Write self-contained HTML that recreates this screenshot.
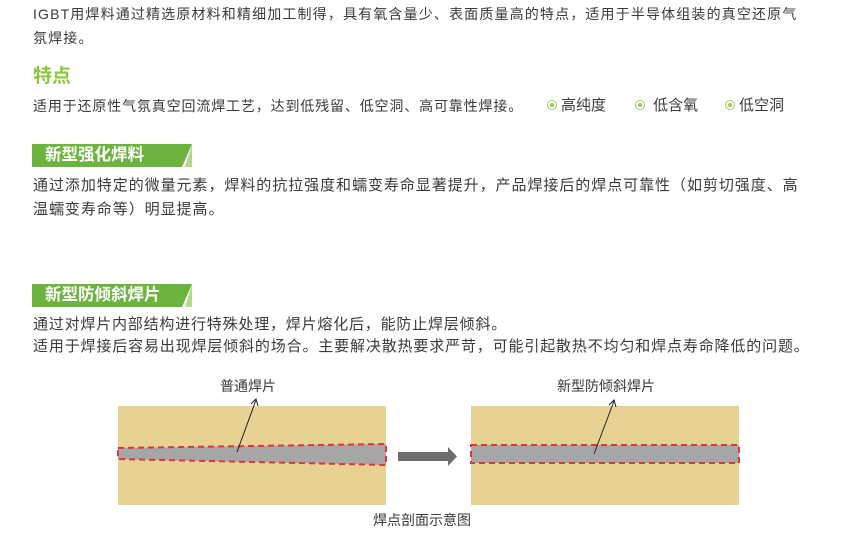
<!DOCTYPE html>
<html><head><meta charset="utf-8"><style>
body{margin:0;width:859px;height:557px;background:#fff;position:relative;overflow:hidden;font-family:"Liberation Sans","Noto Sans CJK SC",sans-serif;color:#3a3a3a}
.t{position:absolute;left:33px;font-size:14px;white-space:nowrap;line-height:20px}
.h{position:absolute;left:33px;font-size:19px;color:#8cc63e;font-weight:bold}
.b{position:absolute;left:32px;width:160px;height:23px}
.b span{position:absolute;left:13px;top:1px;color:#fff;font-weight:bold;font-size:16.5px;line-height:21px}
.d{display:inline-block;width:8px;height:8px;border:1px solid #9ccb5a;border-radius:50%;position:relative;top:0px;margin-right:4px}
.d:after{content:"";position:absolute;left:2px;top:2px;width:4px;height:4px;border-radius:50%;background:#9ccb5a}
.c{position:absolute;font-size:14px;white-space:nowrap}
</style></head><body>
<div class="t" style="top:4px;letter-spacing:1.15px">IGBT用焊料通过精选原材料和精细加工制得，具有氧含量少、表面质量高的特点，适用于半导体组装的真空还原气</div>
<div class="t" style="top:28px;letter-spacing:1.15px">氛焊接。</div>
<div class="h" style="top:61px">特点</div>
<div class="t" style="top:96px;letter-spacing:0.85px">适用于还原性气氛真空回流焊工艺，达到低残留、低空洞、高可靠性焊接。</div>
<div class="t" style="top:96px;left:547px;font-size:15px"><span class="d"></span>高纯度</div>
<div class="t" style="top:96px;left:635px;font-size:15px"><span class="d"></span> 低含氧</div>
<div class="t" style="top:96px;left:725px;font-size:15px"><span class="d"></span>低空洞</div>
<svg class="b" style="top:144px" viewBox="0 0 160 23"><polygon points="0,0 160,0 150,23 0,23" fill="#6db33f"/><polygon points="153,23 160,0 160,23" fill="#b5d98a"/></svg>
<div class="b" style="top:144px"><span>新型强化焊料</span></div>
<div class="t" style="top:176px;font-size:15px;letter-spacing:0.95px">通过添加特定的微量元素，焊料的抗拉强度和蠕变寿命显著提升，产品焊接后的焊点可靠性（如剪切强度、高</div>
<div class="t" style="top:200px;font-size:15px;letter-spacing:0.95px">温蠕变寿命等）明显提高。</div>
<svg class="b" style="top:284px" viewBox="0 0 160 23"><polygon points="0,0 160,0 150,23 0,23" fill="#6db33f"/><polygon points="153,23 160,0 160,23" fill="#b5d98a"/></svg>
<div class="b" style="top:284px"><span>新型防倾斜焊片</span></div>
<div class="t" style="top:315px;font-size:15px;letter-spacing:0.8px">通过对焊片内部结构进行特殊处理，焊片熔化后，能防止焊层倾斜。</div>
<div class="t" style="top:337px;font-size:15px;letter-spacing:0.85px">适用于焊接后容易出现焊层倾斜的场合。主要解决散热要求严苛，可能引起散热不均匀和焊点寿命降低的问题。</div>
<svg style="position:absolute;left:0;top:0" width="859" height="557">
<rect x="118" y="406" width="268" height="99" fill="#e8d293"/>
<rect x="471" y="406" width="268" height="99" fill="#e8d293"/>
<polygon points="118,448 386,444 386,465 118,459" fill="#a6a6a6" stroke="#e2343c" stroke-width="2" stroke-dasharray="6,4"/>
<rect x="471" y="445" width="268" height="18" fill="#a6a6a6" stroke="#e2343c" stroke-width="2" stroke-dasharray="6,4"/>
<line x1="237" y1="452" x2="256" y2="400" stroke="#222" stroke-width="1"/>
<polyline points="251,404 256,399 258,406" fill="none" stroke="#222"/>
<line x1="594" y1="454" x2="614" y2="401" stroke="#222" stroke-width="1"/>
<polyline points="609,405 614,400 616,407" fill="none" stroke="#222"/>
<polygon points="398,452 448,452 448,447 457,456.5 448,466 448,461 398,461" fill="#6d6d6f"/>
</svg>
<div class="c" style="left:220px;top:376px">普通焊片</div>
<div class="c" style="left:557px;top:376px">新型防倾斜焊片</div>
<div class="c" style="left:373px;top:510px">焊点剖面示意图</div>
</body></html>
